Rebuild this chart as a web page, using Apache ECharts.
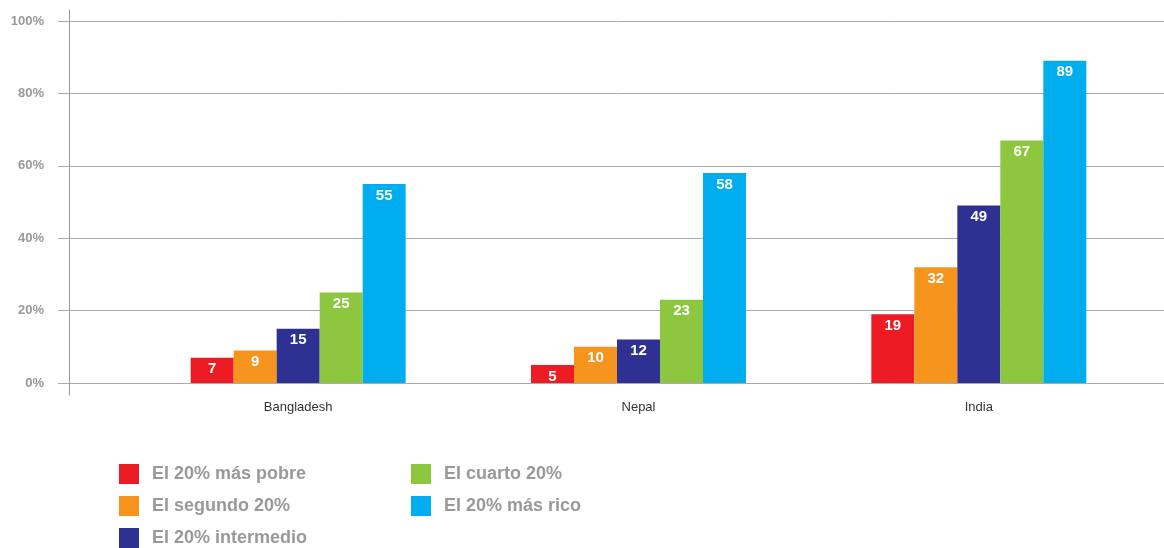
<!DOCTYPE html>
<html>
<head>
<meta charset="utf-8">
<script src="https://cdn.jsdelivr.net/npm/echarts@6/dist/echarts.min.js"></script>
<style>html,body{margin:0;padding:0;background:#fff;}#c{width:1164px;height:548px;}</style>
</head>
<body>
<div id="c"></div>
<script>
const categories = ['Bangladesh', 'Nepal', 'India'];
const seriesNames = ['El 20% más pobre', 'El segundo 20%', 'El 20% intermedio', 'El cuarto 20%', 'El 20% más rico'];
const poorest = [7, 5, 19];
const second = [9, 10, 32];
const middle = [15, 12, 49];
const fourth = [25, 23, 67];
const richest = [55, 58, 89];
const yTicks = [0, 20, 40, 60, 80, 100];
const colors = ['#ED1C24', '#F7941D', '#2E3192', '#8DC63F', '#00AEEF'];

const values = [poorest, second, middle, fourth, richest];
const chart = echarts.init(document.getElementById('c'), null, {renderer: 'canvas'});
const ff = 'Liberation Sans, Arial, sans-serif';
const labelFont = {color: '#fff', fontWeight: 'bold', fontSize: 15, fontFamily: ff};
const legendText = {color: '#999', fontWeight: 'bold', fontSize: 18, padding: [0, 0, 0, 8], fontFamily: ff};

chart.setOption({
  animation: false,
  backgroundColor: '#fff',
  grid: [
    {left: 128, right: 15, top: 21, bottom: 165},
    {left: 69, right: 0, top: 21, bottom: 165},
    {left: 69, right: 0, top: 10, bottom: 153}
  ],
  xAxis: [
    {type: 'category', gridIndex: 0, data: categories,
     axisLine: {show: false}, axisTick: {show: false},
     axisLabel: {margin: 18, color: '#333', fontSize: 13, fontFamily: ff}},
    {type: 'value', gridIndex: 1, show: false},
    {type: 'value', gridIndex: 2, show: false}
  ],
  yAxis: [
    {type: 'value', gridIndex: 0, min: yTicks[0], max: yTicks[yTicks.length - 1], interval: 20, show: false},
    {type: 'value', gridIndex: 1, min: yTicks[0], max: yTicks[yTicks.length - 1], interval: 20,
     axisLine: {show: false},
     axisTick: {show: true, length: 11, lineStyle: {color: '#aaa', width: 1}},
     axisLabel: {formatter: '{value}%', margin: 25, color: '#999', fontWeight: 'bold', fontSize: 13, fontFamily: ff},
     splitLine: {show: true, lineStyle: {color: '#aaa', width: 1}}},
    {type: 'value', gridIndex: 2, min: 0, max: 1,
     axisLine: {show: true, lineStyle: {color: '#999', width: 1}},
     axisTick: {show: false}, axisLabel: {show: false}, splitLine: {show: false}}
  ],
  legend: [
    {data: seriesNames.slice(0, 3), orient: 'vertical', left: 119, top: 464, height: 100, padding: 0,
     itemWidth: 20, itemHeight: 20, itemGap: 12, icon: 'rect', textStyle: legendText},
    {data: seriesNames.slice(3), orient: 'vertical', left: 411, top: 464, height: 100, padding: 0,
     itemWidth: 20, itemHeight: 20, itemGap: 12, icon: 'rect', textStyle: legendText}
  ],
  series: seriesNames.map((name, i) => ({
    name: name,
    type: 'bar',
    xAxisIndex: 0, yAxisIndex: 0,
    data: values[i],
    barWidth: 43,
    barGap: '0%',
    itemStyle: {color: colors[i]},
    label: Object.assign({show: true, position: 'insideTop', distance: 4}, labelFont)
  }))
});
</script>
</body>
</html>
